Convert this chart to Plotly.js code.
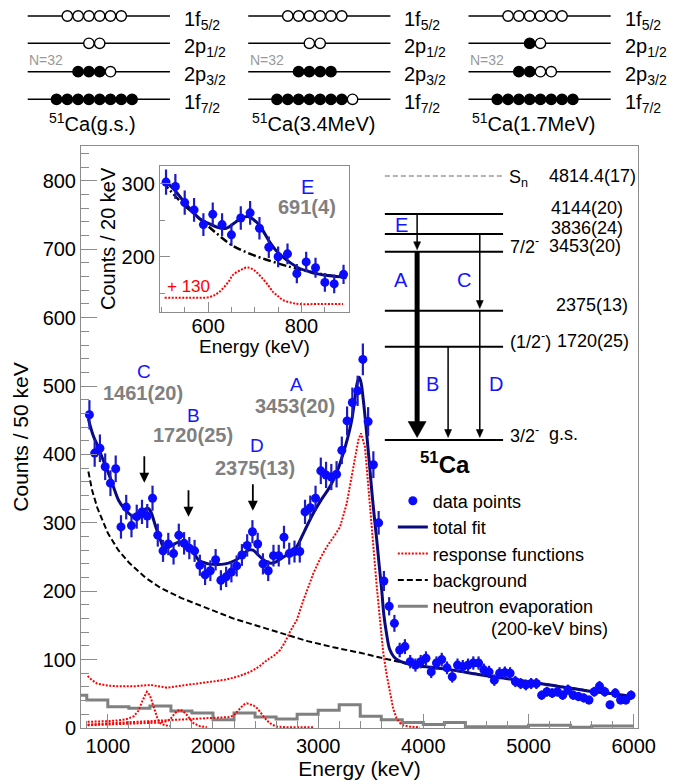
<!DOCTYPE html>
<html><head><meta charset="utf-8">
<script src="https://cdn.plot.ly/plotly-3.0.1.min.js"></script>
<style>html,body{margin:0;padding:0;background:#fff}#chart{width:679px;height:781px}</style>
</head><body><div id="chart"></div>
<script>
// ---------------- DATA ----------------
const dataE = [825,875,925,975,1025,1075,1125,1175,1225,1275,1325,1375,1425,1475,1525,1575,1625,1675,1725,1775,1825,1875,1925,1975,2025,2075,2125,2175,2225,2275,2325,2375,2425,2475,2525,2575,2625,2675,2725,2775,2825,2875,2925,2975,3025,3075,3125,3175,3225,3275,3325,3375,3425,3475,3525,3575,3625,3675,3725,3775,3825,3875,3925,3975,4025,4075,4125,4175,4225,4275,4325,4375,4425,4475,4525,4575,4625,4675,4725,4775,4825,4875,4925,4975,5025,5075,5125,5175,5225,5275,5325,5375,5425,5475,5525,5575,5625,5675,5725,5775,5825,5875,5925,5975];
const dataCounts = [458,402,409,382,358,379,294,323,296,309,316,310,336,282,259,269,255,282,270,263,259,238,224,230,246,216,221,228,237,253,267,287,269,240,230,252,252,279,255,258,258,316,322,336,376,370,367,371,406,449,476,493,539,448,385,300,215,178,153,114,119,97,92,97,102,82,95,100,88,75,92,90,92,95,95,85,82,70,80,81,80,68,65,63,65,65,48,53,51,53,48,56,48,46,44,41,53,61,53,34,51,41,41,48];

const fitE = [815,860,913,960,1008,1055,1102,1150,1198,1240,1277,1320,1356,1385,1410,1440,1467,1500,1530,1570,1610,1660,1705,1745,1784,1820,1862,1910,1957,2040,2116,2180,2242,2290,2337,2380,2417,2465,2512,2560,2600,2650,2700,2764,2800,2870,2954,3030,3113,3180,3239,3280,3319,3350,3372,3391,3410,3429,3448,3467,3488,3509,3533,3557,3580,3604,3625,3650,3680,3720,3760,3825,3950,4100,4269,4500,4700,4901,5200,5535,5800,5993];
const fitCounts = [452,428,409,390,372,352,333,322,314,309,307,312,320,321,316,302,289,275,264,264,267,271,272,268,262,255,246,242,240,239,240,243,248,255,260,260,255,248,243,241,243,248,253,260,266,288,314,334,353,375,402,424,450,483,505,513,503,480,452,421,385,348,310,275,238,202,165,138,115,104,99,95,91,88,85,79,74,70,63,55,50,46];

const bgE = [815,850,900,950,1000,1100,1200,1356,1500,1700,1900,2195,2450,2702,2900,3144,3400,3588,3873,4200,4600,5000,5500,6000];
const bgCounts = [375,348,322,302,285,260,242,220,205,190,178,160,148,136,127,118,110,103,93,86,77,68,56,45];

const respA_E = [808,850,897,1000,1087,1250,1404,1562,1700,1878,2000,2132,2250,2353,2440,2512,2580,2638,2690,2733,2797,2860,2954,3020,3082,3150,3208,3271,3334,3382,3407,3445,3477,3509,3557,3588,3619,3651,3683,3714,3746,3780,3809,3870,3967];
const respA = [76,70,65,62,61,61,63,59,62,65,68,71,76,82,90,99,106,114,127,141,158,187,226,248,265,280,294,328,382,421,431,411,353,290,207,158,110,78,50,28,14,7,4,2,1];
const respB_E = [808,1000,1200,1400,1500,1562,1600,1625,1660,1688,1720,1752,1785,1815,1870,1942];
const respB = [4,5,6,7,8,10,14,19,25,27,24,19,12,7,3,1];
const respC_E = [808,900,1000,1087,1180,1245,1290,1330,1372,1400,1435,1470,1499,1540,1600];
const respC = [9,9,10,11,13,17,25,40,53,48,31,15,7,4,3];
const respD_E = [808,1000,1200,1400,1600,1800,2000,2150,2195,2230,2258,2290,2322,2355,2385,2420,2449,2480,2512,2560,2607,2700,2954];
const respD = [5,7,8.5,10,11.5,13,14.5,16,18,24,29,34,36,35,33,29,24,17,11,5,2,1,1];

const evapEdges = [600,800,1000,1200,1400,1600,1800,2000,2200,2400,2600,2800,3000,3200,3400,3600,3800,4000,4200,4400,4600,4800,5000,5200,5400,5600,5800,6000];
const evapCounts = [48,41,31,29,32,25,22,12,22,16,13,20,26,34,17,12,8,5,8,2,2,2,4,4,1,3,3];

// inset (20 keV bins)
const insetE = [510,530,550,570,590,610,630,650,670,690,710,730,750,770,790,810,830,850,870,890];
const insetCounts = [302,296,274,264,244,258,244,230,253,260,239,213,200,204,177,193,185,165,163,176];
const insetFitE = [507,530,546,565,582,600,617,639,660,672,685,697,710,721,732,745,760,778,796,815,832,860,896];
const insetFit = [304,290,277,263,252,246,241,239,248,253,255,251,243,232,220,209,200,191,184,180,177,174,172];
const insetBgE = [503,540,582,620,653,690,725,760,782,830,896];
const insetBg = [302,276,252,231,215,204,196,189,185,178,171];
const insetRespE = [507,560,603,620,632,645,653,670,685,700,717,730,739,750,760,780,796,840,889];
const insetResp = [144,144,145,150,157,167,175,182,185.5,181,170,160,152,146,141,137,135.5,135.5,135.5];

// peak labels
const peakLetters = ['C','B','D','A'];
const peakEnergies = ['1461(20)','1720(25)','2375(13)','3453(20)'];
const arrowE = [1347,1767,2379];
const arrowCounts = [358.6,308.9,317.7];

// level scheme
const levelLabels = ['4144(20)','3836(24)','3453(20)','2375(13)','1720(25)','g.s.'];
const levelSpins = ['','','7/2<sup>-</sup>','','(1/2<sup>-</sup>)','3/2<sup>-</sup>'];
const snLabel = '4814.4(17)';

// shell occupation
const shellNames = ['1f<sub>5/2</sub>','2p<sub>1/2</sub>','2p<sub>3/2</sub>','1f<sub>7/2</sub>'];
const stateNames = ['<sup>51</sup>Ca(g.s.)','<sup>51</sup>Ca(3.4MeV)','<sup>51</sup>Ca(1.7MeV)'];
const occupations = [
  ['oooooo','oo','fffo','ffffffff'],
  ['oooooo','oo','ffff','fffffffo'],
  ['oooooo','fo','ffoo','ffffffff']
];

// ---------------- LAYOUT HELPERS ----------------
const L=81, R=638.3, T=146, B=728;
const px = X => (X-L)/(R-L);
const py = Y => (B-Y)/(B-T);
const FONT = 'Liberation Sans, Arial, sans-serif';
const BLUE = '#1414ff', GRAY = '#808080';

const traces = [];
traces.push({type:'scatter', mode:'lines', x:evapEdges, y:evapCounts.concat([evapCounts[evapCounts.length-1]]),
  line:{shape:'hv', color:'#808080', width:3}, name:'neutron evaporation', legendrank:5, hoverinfo:'skip'});
[[respA_E,respA],[respB_E,respB],[respC_E,respC],[respD_E,respD]].forEach((r,i)=>{
  traces.push({type:'scatter', mode:'lines', x:r[0], y:r[1], line:{color:'#ff0000', width:2, dash:'2px,1.5px'},
    name:'response functions', legendgroup:'resp', showlegend:i===0, legendrank:3, hoverinfo:'skip'});
});
traces.push({type:'scatter', mode:'lines', x:bgE, y:bgCounts, line:{color:'black', width:2, dash:'6px,3px'},
  name:'background', legendrank:4});
traces.push({type:'scatter', mode:'lines', x:fitE, y:fitCounts, line:{color:'#0a0a80', width:3, shape:'spline'},
  name:'total fit', legendrank:2});
traces.push({type:'scatter', mode:'markers', x:dataE, y:dataCounts,
  marker:{color:'#0a0aff', size:9}, error_y:{type:'sqrt', color:'#1c1cc0', thickness:2.2, width:0},
  name:'data points', legendrank:1});

// inset
traces.push({type:'scatter', mode:'lines', x:insetRespE, y:insetResp, xaxis:'x2', yaxis:'y2',
  line:{color:'#ff0000', width:2, dash:'2px,1.5px', shape:'spline'}, showlegend:false});
traces.push({type:'scatter', mode:'lines', x:insetBgE, y:insetBg, xaxis:'x2', yaxis:'y2',
  line:{color:'black', width:2.5, dash:'8px,3px,2px,3px', shape:'spline'}, showlegend:false});
traces.push({type:'scatter', mode:'lines', x:insetFitE, y:insetFit, xaxis:'x2', yaxis:'y2',
  line:{color:'#0a0a80', width:3, shape:'spline'}, showlegend:false});
traces.push({type:'scatter', mode:'markers', x:insetE, y:insetCounts, xaxis:'x2', yaxis:'y2',
  marker:{color:'#0a0aff', size:9}, error_y:{type:'sqrt', color:'#1c1cc0', thickness:2.2, width:0}, showlegend:false});

// ---------------- ANNOTATIONS / SHAPES ----------------
const ann = [];
const shapes = [];
function txt(text, X, Y, size, color, xanchor, extra){
  ann.push(Object.assign({text:text, x:px(X), y:py(Y), xref:'paper', yref:'paper', showarrow:false,
    xanchor:xanchor||'center', yanchor:'middle', borderpad:0, font:{family:FONT, size:size, color:color||'black'}}, extra||{}));
}
// peak labels in main plot
const letterPos = [[144.3,371],[194,415],[256.7,446],[296.7,384]];
const energyPos = [[143.3,393],[193.3,435],[255,467.5],[295,406]];
peakLetters.forEach((s,i)=>txt(s, letterPos[i][0], letterPos[i][1], 19, BLUE));
peakEnergies.forEach((s,i)=>txt('<b>'+s+'</b>', energyPos[i][0], energyPos[i][1], 20, GRAY));
arrowE.forEach((e,i)=>{
  ann.push({x:e, y:arrowCounts[i], xref:'x', yref:'y', text:'', showarrow:true, ax:0, ay:-28,
    arrowhead:2, arrowsize:1.1, arrowwidth:1.8, arrowcolor:'black'});
});
// inset labels
txt('E', 308, 186.7, 20, BLUE);
txt('<b>691(4)</b>', 306.7, 206.7, 20, GRAY);
txt('+ 130', 166, 286.7, 17, '#ff0000', 'left');
txt('Energy (keV)', 254.7, 346, 19, 'black');
// legend second line
txt('(200-keV bins)', 490, 629, 18, 'black', 'left');

// level scheme
const lvX0 = 385, lvX1 = 503.3;
const levelY = [214, 234, 251.7, 310.7, 346.7, 440];
const labelX = [550, 550, 548.3, 555, 556, 548];
const spinX = 509;
shapes.push({type:'line', xref:'paper', yref:'paper', x0:px(lvX0), x1:px(lvX1), y0:py(176), y1:py(176),
  line:{color:'#999', width:1.5, dash:'5px,3px'}});
levelY.forEach(y=>shapes.push({type:'line', xref:'paper', yref:'paper', x0:px(lvX0), x1:px(lvX1), y0:py(y), y1:py(y),
  line:{color:'black', width:2}}));
txt('S<sub>n</sub>', 508, 178, 18, 'black', 'left');
txt(snLabel, 548.3, 176, 18, 'black', 'left');
levelLabels.forEach((s,i)=>txt(s, labelX[i], levelY[i]-6, 18, 'black', 'left'));
levelSpins.forEach((s,i)=>{ if(s) txt(s, spinX, levelY[i]-6, 18, 'black', 'left'); });
txt('<b><sup>51</sup>Ca</b>', 445, 463, 24, 'black');
// transitions
function arrowShape(X, y0, tip, w, hw, hh){
  shapes.push({type:'line', xref:'paper', yref:'paper', x0:px(X), x1:px(X), y0:py(y0), y1:py(tip-hh+1),
    line:{color:'black', width:w}});
  shapes.push({type:'path', xref:'paper', yref:'paper', fillcolor:'black', line:{color:'black', width:0.5},
    path:'M '+px(X-hw)+' '+py(tip-hh)+' L '+px(X+hw)+' '+py(tip-hh)+' L '+px(X)+' '+py(tip)+' Z'});
}
arrowShape(417.3, 214, 249.8, 1.5, 3.5, 8);
arrowShape(417.3, 251.7, 437.5, 5, 9, 16);
arrowShape(480, 234, 308.5, 1.5, 3.5, 8);
arrowShape(448.3, 346.7, 437.5, 1.5, 3.5, 8);
arrowShape(480, 310.7, 437.5, 1.5, 3.5, 8);
txt('E', 401.7, 225, 20, BLUE);
txt('A', 400.7, 280, 20, BLUE);
txt('C', 464.3, 280, 20, BLUE);
txt('B', 432.7, 384, 20, BLUE);
txt('D', 496, 384, 20, BLUE);

// shell diagrams
const diagDX = [0, 220.6, 441];
const rowY = [16, 43.3, 71.7, 99.3];
const spacing = 10.8, rad = 5.2;
diagDX.forEach((dx,d)=>{
  rowY.forEach((y,r)=>{
    shapes.push({type:'line', xref:'paper', yref:'paper', x0:px(27.7+dx), x1:px(170+dx), y0:py(y), y1:py(y),
      line:{color:'black', width:1.6}});
    const occ = occupations[d][r];
    const n = occ.length;
    for(let k=0;k<n;k++){
      const cx = 94.3+dx - (n-1)/2*spacing + k*spacing;
      shapes.push({type:'circle', xref:'paper', yref:'paper', x0:px(cx-rad), x1:px(cx+rad), y0:py(y+rad), y1:py(y-rad),
        fillcolor: occ[k]==='f' ? 'black' : 'white', line:{color:'black', width:1.4}});
    }
    txt(shellNames[r], 183+dx, y+4, 20, 'black', 'left');
  });
  txt('N=32', 28+dx, 60, 14, '#999', 'left');
  txt(stateNames[d], 92.8+dx, 123, 20, 'black');
});

// ---------------- LAYOUT ----------------
const axCommon = {showline:true, mirror:true, linecolor:'#8c8c8c', linewidth:1, ticks:'inside', tickcolor:'#8c8c8c',
  tickwidth:1, showgrid:false, zeroline:false, tickfont:{family:FONT, size:20, color:'black'}};
const layout = {
  width:679, height:781, margin:{l:L, r:679-R, t:T, b:781-B},
  paper_bgcolor:'white', plot_bgcolor:'white', font:{family:FONT, color:'black'},
  xaxis: Object.assign({}, axCommon, {range:[745,6041], tick0:0, dtick:1000, ticklen:14,
    minor:{dtick:200, ticklen:7, ticks:'inside', tickcolor:'#8c8c8c'},
    title:{text:'Energy (keV)', font:{family:FONT, size:21}, standoff:0}}),
  yaxis: Object.assign({}, axCommon, {range:[0,851], tick0:0, dtick:100, ticklen:16,
    minor:{dtick:20, ticklen:8, ticks:'inside', tickcolor:'#8c8c8c'},
    title:{text:'Counts / 50 keV', font:{family:FONT, size:21}, standoff:8}}),
  xaxis2: Object.assign({}, axCommon, {anchor:'y2', domain:[px(160), px(349.3)], range:[497,902], tick0:0, dtick:200, ticklen:10,
    ticklabelstandoff:-4,
    minor:{dtick:50, ticklen:5, ticks:'inside', tickcolor:'#8c8c8c'}}),
  yaxis2: Object.assign({}, axCommon, {anchor:'x2', domain:[py(311.7), py(166)], range:[125,324], tick0:0, dtick:100, ticklen:10,
    minor:{dtick:50, ticklen:5, ticks:'inside', tickcolor:'#8c8c8c'},
    title:{text:'Counts / 20 keV', font:{family:FONT, size:20}, standoff:0}}),
  legend:{x:px(393), y:py(482.5), xanchor:'left', yanchor:'top', bgcolor:'rgba(0,0,0,0)',
    font:{family:FONT, size:18, color:'black'}, tracegroupgap:0, itemwidth:30},
  showlegend:true,
  annotations: ann,
  shapes: shapes
};
Plotly.newPlot('chart', traces, layout, {staticPlot:true, displayModeBar:false});
</script></body></html>
